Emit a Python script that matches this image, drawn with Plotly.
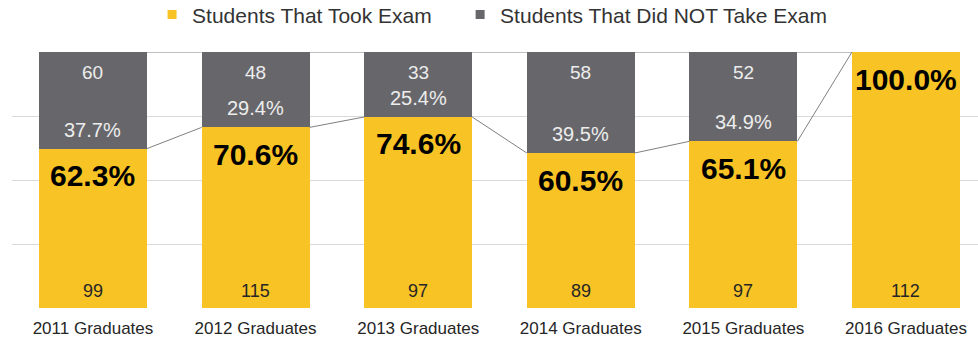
import plotly.graph_objects as go

# Exam participation by graduating class
categories = ["2011 Graduates", "2012 Graduates", "2013 Graduates",
              "2014 Graduates", "2015 Graduates", "2016 Graduates"]
took_exam = [99, 115, 97, 89, 97, 112]
did_not_take = [60, 48, 33, 58, 52, 0]
series_names = ["Students That Took Exam", "Students That Did NOT Take Exam"]

YELLOW = "#F8C325"
GRAY = "#67676B"
FONT = "Arial, Liberation Sans, sans-serif"
BAR_W = 0.664

totals = [a + b for a, b in zip(took_exam, did_not_take)]
took_share = [a / t for a, t in zip(took_exam, totals)]
not_share = [b / t for b, t in zip(did_not_take, totals)]
xs = list(range(len(categories)))

fig = go.Figure()

fig.add_trace(go.Bar(x=xs, y=took_share, width=BAR_W, marker_color=YELLOW,
                     marker_line_width=0, showlegend=False, name=series_names[0]))
fig.add_trace(go.Bar(x=xs, y=not_share, width=BAR_W, marker_color=GRAY,
                     marker_line_width=0, showlegend=False, name=series_names[1]))

# Series lines joining the tops of neighbouring segments
for i in range(len(xs) - 1):
    x0, x1 = xs[i] + BAR_W / 2, xs[i + 1] - BAR_W / 2
    for level0, level1 in [(took_share[i], took_share[i + 1]), (1.0, 1.0)]:
        fig.add_trace(go.Scatter(x=[x0, x1], y=[level0, level1], mode="lines",
                                 line=dict(color="#808080", width=1),
                                 showlegend=False, hoverinfo="skip"))

# Legend entries (small square swatches); non-breaking spaces widen the gap between items
fig.add_trace(go.Scatter(x=[None], y=[None], mode="markers",
                         name=series_names[0] + "\u00a0" * 4,
                         marker=dict(symbol="square", size=9, color=YELLOW)))
fig.add_trace(go.Scatter(x=[None], y=[None], mode="markers", name=series_names[1],
                         marker=dict(symbol="square", size=9, color=GRAY)))

annotations = []
for i, x in enumerate(xs):
    # count of exam takers at the base of the yellow segment
    annotations.append(dict(x=x, y=0, text=str(took_exam[i]), showarrow=False,
                            yanchor="middle", yshift=17,
                            font=dict(family=FONT, size=18, color="#262626")))
    # share of exam takers just under the segment top
    annotations.append(dict(x=x, y=took_share[i], text=f"{took_share[i]*100:.1f}%",
                            showarrow=False, yanchor="middle", yshift=-27,
                            font=dict(family=FONT, size=30, color="#000000", weight="bold")))
    if did_not_take[i] > 0:
        annotations.append(dict(x=x, y=1.0, text=str(did_not_take[i]), showarrow=False,
                                yanchor="middle", yshift=-20,
                                font=dict(family=FONT, size=19, color="#EDEDED")))
        annotations.append(dict(x=x, y=took_share[i], text=f"{not_share[i]*100:.1f}%",
                                showarrow=False, yanchor="middle", yshift=19,
                                font=dict(family=FONT, size=20, color="#EDEDED")))

fig.update_layout(
    width=978, height=338,
    margin=dict(l=12, r=0, t=52, b=30, autoexpand=False),
    barmode="stack",
    plot_bgcolor="white", paper_bgcolor="white",
    font=dict(family=FONT),
    annotations=annotations,
    legend=dict(orientation="h", x=0.145, xanchor="left", y=1.145, yanchor="middle",
                yref="paper", font=dict(family=FONT, size=21, color="#333333"),
                itemwidth=30, traceorder="normal"),
    xaxis=dict(range=[-0.498, 5.443], tickmode="array", tickvals=xs, ticktext=categories,
               showgrid=False, zeroline=False, showline=False, ticks="",
               ticklabelstandoff=8,
               tickfont=dict(family=FONT, size=17, color="#262626")),
    yaxis=dict(range=[0, 1], dtick=0.25, showgrid=True, gridcolor="#D9D9D9", gridwidth=1,
               zeroline=False, showticklabels=False, showline=False),
)

fig.write_html("out.html")
